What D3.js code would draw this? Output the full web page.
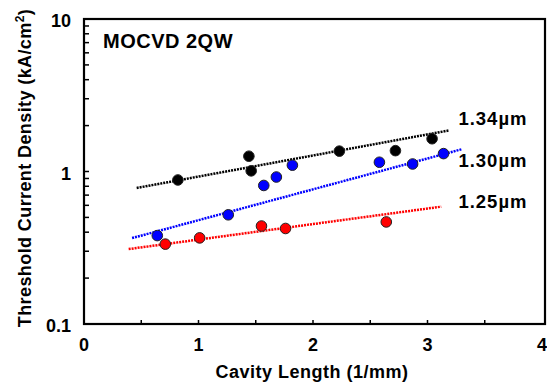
<!DOCTYPE html>
<html>
<head>
<meta charset="utf-8">
<script src="https://cdn.jsdelivr.net/npm/d3@7"></script>
<style>
  body { margin: 0; background: #fff; }
  text { font-family: "Liberation Sans", Arial, Helvetica, sans-serif; fill: #000; font-weight: bold; }
</style>
</head>
<body>
<div class="canvas1"></div>
<script>
const margin = { top: 19, right: 2, bottom: 63, left: 84 };
const width = 547 - margin.left - margin.right;
const height = 387 - margin.top - margin.bottom;

// measured points (cavity length 1/mm, Jth kA/cm2)
const black134X = [0.82, 1.44, 1.46, 2.23, 2.72, 3.04];
const black134Y = [0.88, 1.26, 1.01, 1.36, 1.37, 1.64];
const blue130X = [0.64, 1.26, 1.57, 1.68, 1.82, 2.58, 2.87, 3.14];
const blue130Y = [0.38, 0.52, 0.81, 0.92, 1.10, 1.15, 1.12, 1.31];
const red125X = [0.71, 1.01, 1.55, 1.76, 2.64];
const red125Y = [0.334, 0.367, 0.439, 0.423, 0.467];

// fitted lines: [x0, y0, x1, y1]
const fit134 = [0.46, 0.78, 3.19, 1.86];
const fit130 = [0.42, 0.366, 3.30, 1.40];
const fit125 = [0.39, 0.31, 3.12, 0.588];

const xTicks = [0, 1, 2, 3, 4];
const yTicks = [0.1, 1, 10];
const seriesLabels = ["1.34µm", "1.30µm", "1.25µm"];

var svg = d3.select(".canvas1").append("svg")
    .attr("width", 547)
    .attr("height", 387)
  .append("g")
    .attr("transform", "translate(" + margin.left + "," + margin.top + ")");

const x = d3.scaleLinear().domain([0, 4]).range([0, width - 3]);
const y = d3.scaleLog().domain([0.1, 10]).range([height, 0]);

// y ticks (inside, left), 1..9 per decade
const yMinor = [];
[0.1, 1].forEach(d => { for (let k = 1; k <= 9; k++) yMinor.push(d * k); });
svg.selectAll(".ymin").data(yMinor).enter().append("line")
    .attr("x1", 0).attr("x2", 5)
    .attr("y1", d => y(d)).attr("y2", d => y(d))
    .attr("stroke", "#000").attr("stroke-width", 1.5);

// x ticks every 0.5 (inside, bottom)
svg.selectAll(".xt").data(d3.range(0.5, 4, 0.5)).enter().append("line")
    .attr("x1", d => x(d)).attr("x2", d => x(d))
    .attr("y1", height).attr("y2", height - 4)
    .attr("stroke", "#000").attr("stroke-width", 1.5);

// frame
svg.append("rect")
    .attr("x", 0).attr("y", 0)
    .attr("width", width).attr("height", height)
    .attr("fill", "none").attr("stroke", "#000").attr("stroke-width", 2.2);

// tick labels
svg.selectAll(".xl").data(xTicks).enter().append("text")
    .attr("x", d => x(d)).attr("y", height + 27)
    .attr("text-anchor", "middle")
    .style("font-size", "18px")
    .text(d => d);
svg.selectAll(".yl").data(yTicks).enter().append("text")
    .attr("x", -13).attr("y", d => y(d) + 2).attr("dy", ".35em")
    .attr("text-anchor", "end")
    .style("font-size", "18px")
    .text(d => d);

// fit lines
const fits = [[fit134, "#000"], [fit130, "#0000ff"], [fit125, "#ff0000"]];
fits.forEach(f => {
  svg.append("line")
    .attr("x1", x(f[0][0])).attr("y1", y(f[0][1]))
    .attr("x2", x(f[0][2])).attr("y2", y(f[0][3]))
    .attr("stroke", f[1]).attr("stroke-width", 2.5)
    .attr("stroke-dasharray", "2,1");
});

// points
const pts = [[black134X, black134Y, "#000"], [blue130X, blue130Y, "#0000ff"], [red125X, red125Y, "#ff0000"]];
pts.forEach(p => {
  svg.selectAll(null).data(p[0]).enter().append("circle")
    .attr("cx", d => x(d)).attr("cy", (d, i) => y(p[1][i]))
    .attr("r", 5.3)
    .attr("fill", p[2]).attr("stroke", "#222").attr("stroke-width", 1);
});

// series labels
svg.selectAll(".sl").data(seriesLabels).enter().append("text")
    .attr("x", x(3.27))
    .attr("y", (d, i) => [106, 148, 189][i])
    .style("font-size", "18.5px")
    .style("letter-spacing", "1px")
    .text(d => d);

// inset title
svg.append("text")
    .attr("x", 19).attr("y", 29)
    .style("font-size", "20px")
    .style("letter-spacing", "0.5px")
    .text("MOCVD 2QW");

// axis titles
svg.append("text")
    .attr("x", 228).attr("y", height + 54)
    .attr("text-anchor", "middle")
    .style("font-size", "18px")
    .style("letter-spacing", "0.5px")
    .text("Cavity Length (1/mm)");

svg.append("text")
    .attr("transform", "rotate(-90)")
    .attr("x", -149).attr("y", -53)
    .attr("text-anchor", "middle")
    .style("font-size", "18px")
    .style("letter-spacing", "0.4px")
    .html("Threshold Current Density (kA/cm<tspan dy='-7' style='font-size:12px'>2</tspan><tspan dy='7'>)</tspan>");
</script>
</body>
</html>
